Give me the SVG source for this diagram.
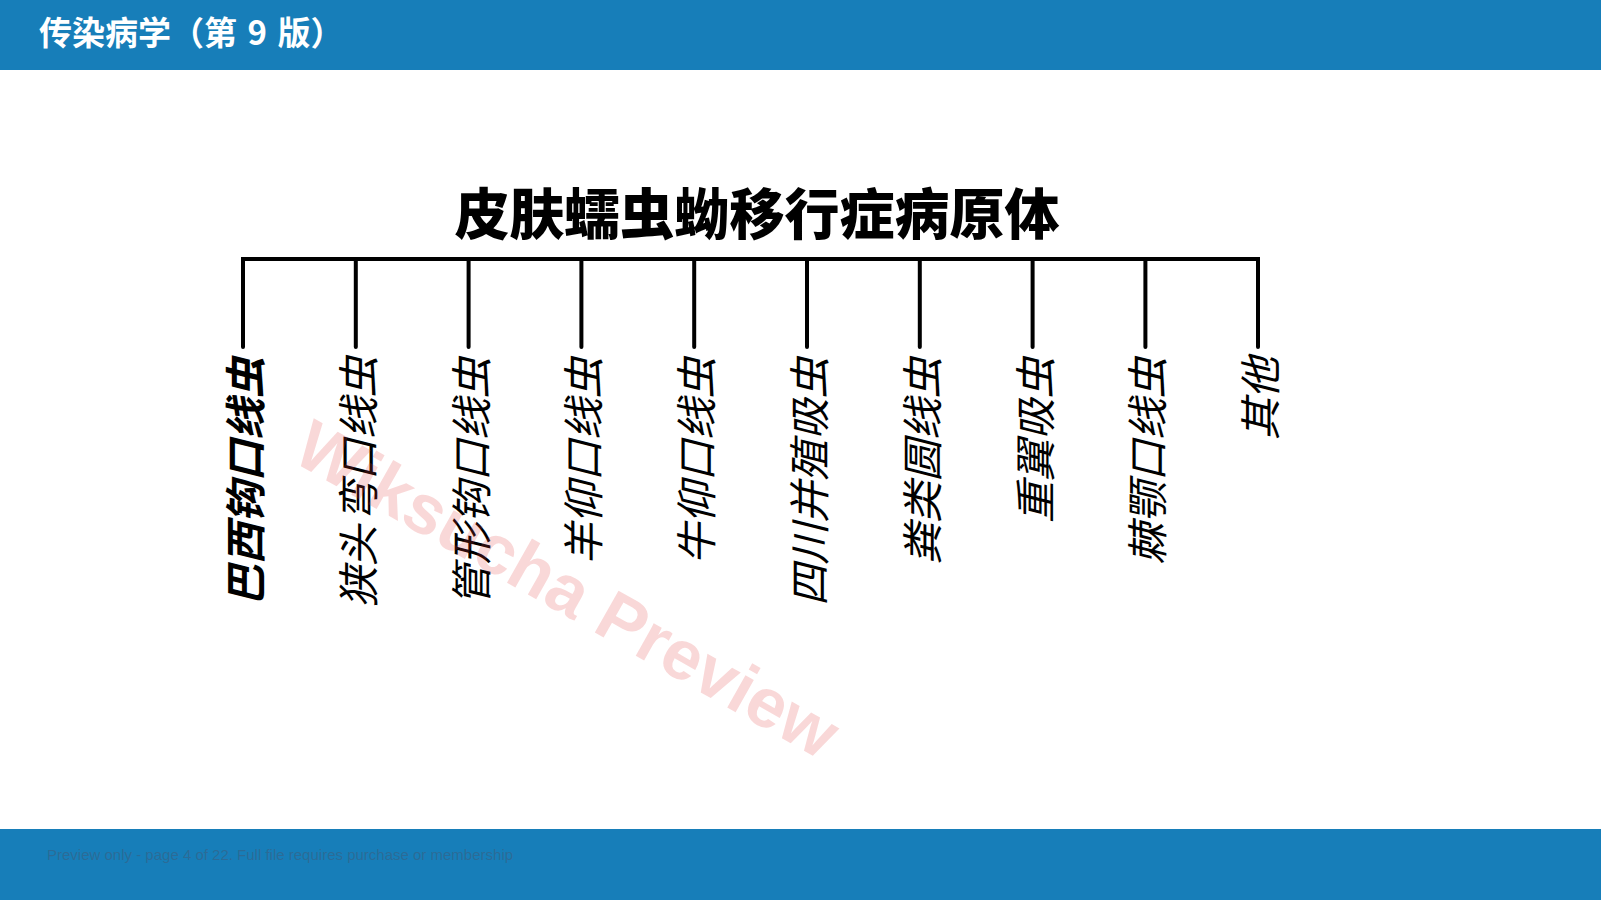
<svg xmlns="http://www.w3.org/2000/svg" width="1601" height="900" viewBox="0 0 1601 900">
<style>
.bar{fill:#177eb9}
.hdr{font-family:"Noto Sans CJK SC","Noto Sans",sans-serif;font-weight:700;font-size:33px;fill:#ffffff}
.ttl{font-family:"Noto Sans CJK SC",sans-serif;font-weight:900;font-size:55px;fill:#000000}
.lbl{font-family:"Noto Sans CJK SC",sans-serif;font-style:italic;font-size:41.5px;fill:#000000}
.b{font-weight:700}
.conn{fill:none;stroke:#000000;stroke-width:4;stroke-linecap:round;stroke-linejoin:miter}
.wm{font-family:"Liberation Sans",Arial,sans-serif;font-weight:700;font-size:70px;fill:#e23b3b;fill-opacity:0.2}
.ftr{font-family:"Liberation Sans",Arial,sans-serif;font-size:15px;fill:#3a5f80;fill-opacity:0.6}
</style>
<rect width="1601" height="900" fill="#ffffff"/>
<g id="header">
<rect class="bar" x="0" y="0" width="1601" height="70"/>
<text class="hdr" x="39" y="45">传染病学（第 <tspan dx="3">9</tspan> <tspan dx="3">版）</tspan></text>
</g>
<g id="footer">
<rect class="bar" x="0" y="829" width="1601" height="71"/>
<text class="ftr" x="47" y="860">Preview only - page 4 of 22. Full file requires purchase or membership</text>
</g>
<g id="root">
<text class="ttl" x="757" y="234" text-anchor="middle">皮肤蠕虫蚴移行症病原体</text>
</g>
<g id="connectors">
<path class="conn" d="M243,347 V259 H1258 V347"/>
<path class="conn" d="M355.8,259 V347 M468.6,259 V347 M581.4,259 V347 M694.2,259 V347 M807,259 V347 M919.8,259 V347 M1032.6,259 V347 M1145.4,259 V347"/>
</g>
<g id="n1"><text class="lbl b" transform="translate(243,357) rotate(-90)" text-anchor="end" dominant-baseline="central">巴西钩口线虫</text></g>
<g id="n2"><text class="lbl" transform="translate(355.8,356) rotate(-90)" text-anchor="end" dominant-baseline="central" font-size="40">狭头<tspan dx="3">弯口线虫</tspan></text></g>
<g id="n3"><text class="lbl" transform="translate(468.6,357) rotate(-90)" text-anchor="end" dominant-baseline="central">管形钩口线虫</text></g>
<g id="n4"><text class="lbl" transform="translate(581.4,357) rotate(-90)" text-anchor="end" dominant-baseline="central">羊仰口线虫</text></g>
<g id="n5"><text class="lbl" transform="translate(694.2,357) rotate(-90)" text-anchor="end" dominant-baseline="central">牛仰口线虫</text></g>
<g id="n6"><text class="lbl" transform="translate(807,357) rotate(-90)" text-anchor="end" dominant-baseline="central">四川并殖吸虫</text></g>
<g id="n7"><text class="lbl" transform="translate(919.8,357) rotate(-90)" text-anchor="end" dominant-baseline="central">粪类圆线虫</text></g>
<g id="n8"><text class="lbl" transform="translate(1032.6,357) rotate(-90)" text-anchor="end" dominant-baseline="central">重翼吸虫</text></g>
<g id="n9"><text class="lbl" transform="translate(1145.4,357) rotate(-90)" text-anchor="end" dominant-baseline="central">棘颚口线虫</text></g>
<g id="n10"><text class="lbl" transform="translate(1258.2,357) rotate(-90)" text-anchor="end" dominant-baseline="central">其他</text></g>
<text class="wm" transform="translate(290,460) rotate(29.5)">Wiksucha Preview</text>
</svg>
